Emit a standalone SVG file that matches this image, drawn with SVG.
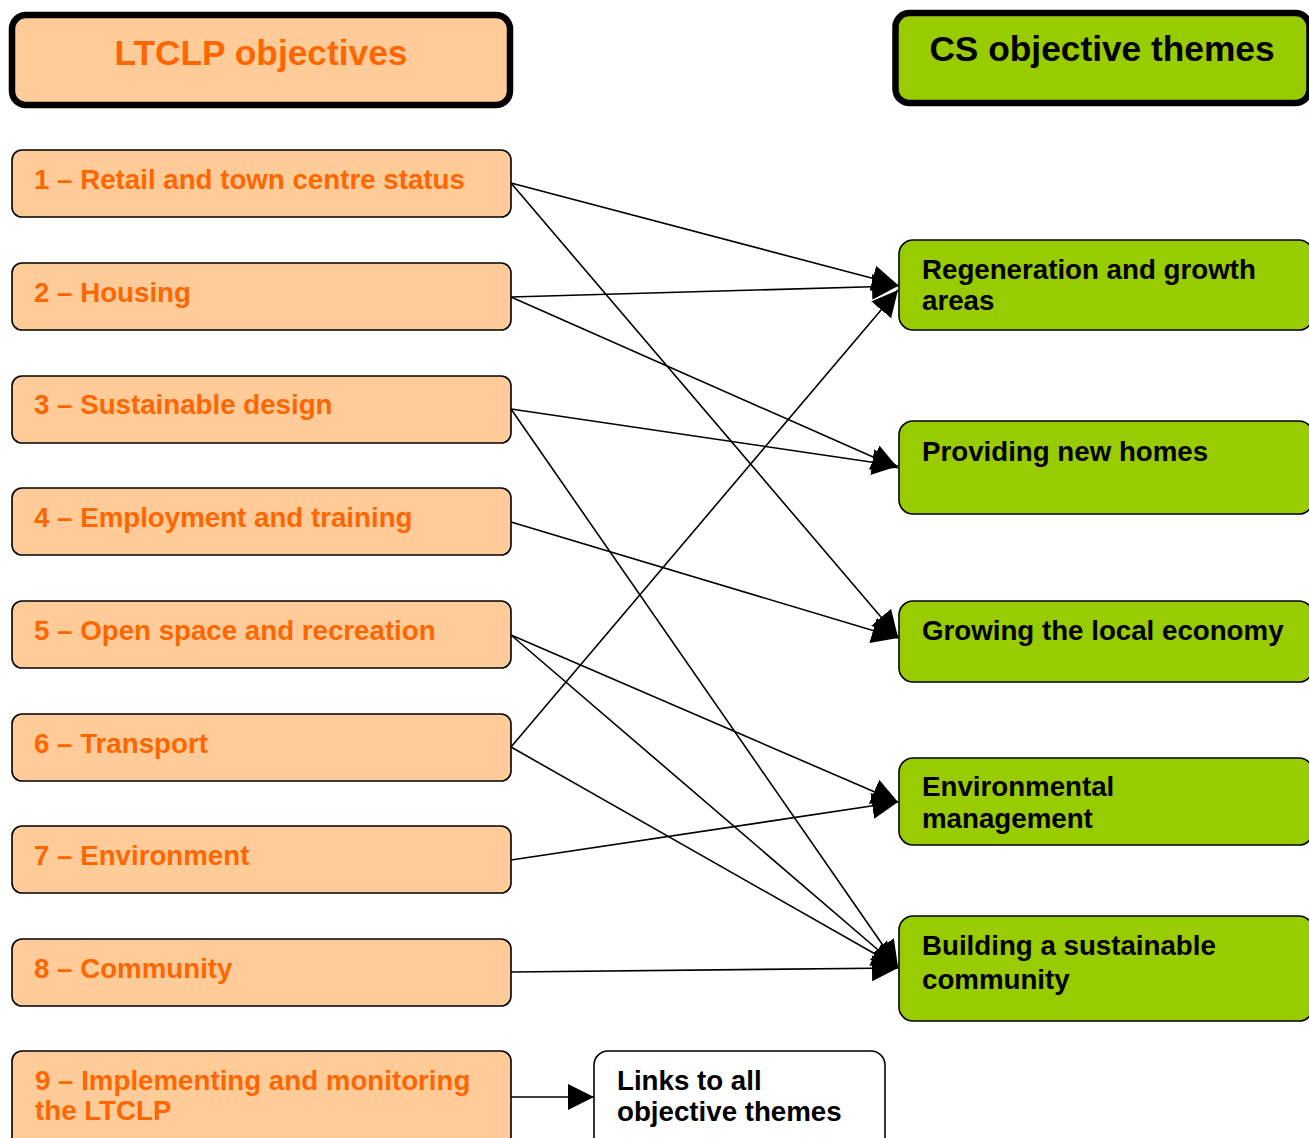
<svg xmlns="http://www.w3.org/2000/svg" width="1309" height="1138" viewBox="0 0 1309 1138">
<defs>
<marker id="ah" markerUnits="userSpaceOnUse" markerWidth="27" markerHeight="26" refX="26" refY="13" orient="auto">
<path d="M0,0 L26,13 L0,26 z" fill="#000"/>
</marker>
<style>
.hdr{stroke:#000;stroke-width:6.5}
.lbox{fill:#FFCC99;stroke:#000;stroke-width:1.6}
.rbox{fill:#99CC00;stroke:#000;stroke-width:1.6}
.wbox{fill:#FFFFFF;stroke:#000;stroke-width:1.6}
.lt{font-family:"Liberation Sans",Arial,sans-serif;font-weight:bold;font-size:27.7px;fill:#FF6600}
.rt{font-family:"Liberation Sans",Arial,sans-serif;font-weight:bold;font-size:27.7px;fill:#000}
.ht{font-family:"Liberation Sans",Arial,sans-serif;font-weight:bold;font-size:35.3px;text-anchor:middle}
.con line{stroke:#000;stroke-width:1.6;marker-end:url(#ah)}
</style>
</defs>
<rect width="1309" height="1138" fill="#fff"/>

<g id="hdr-left">
<rect class="hdr" x="12" y="15" width="498" height="90" rx="14" fill="#FFCC99"/>
<text class="ht" x="261" y="65" fill="#FF6600">LTCLP objectives</text>
</g>
<g id="hdr-right">
<rect class="hdr" x="895.5" y="13" width="414" height="90" rx="14" fill="#99CC00"/>
<text class="ht" x="1102" y="61" fill="#000">CS objective themes</text>
</g>

<g id="obj1"><rect class="lbox" x="12" y="150" width="499" height="67" rx="10"/><text class="lt" x="34" y="189">1 – Retail and town centre status</text></g>
<g id="obj2"><rect class="lbox" x="12" y="263" width="499" height="67" rx="10"/><text class="lt" x="34" y="302">2 – Housing</text></g>
<g id="obj3"><rect class="lbox" x="12" y="376" width="499" height="67" rx="10"/><text class="lt" x="34" y="414">3 – Sustainable design</text></g>
<g id="obj4"><rect class="lbox" x="12" y="488" width="499" height="67" rx="10"/><text class="lt" x="34" y="527">4 – Employment and training</text></g>
<g id="obj5"><rect class="lbox" x="12" y="601" width="499" height="67" rx="10"/><text class="lt" x="34" y="640">5 – Open space and recreation</text></g>
<g id="obj6"><rect class="lbox" x="12" y="714" width="499" height="67" rx="10"/><text class="lt" x="34" y="753">6 – Transport</text></g>
<g id="obj7"><rect class="lbox" x="12" y="826" width="499" height="67" rx="10"/><text class="lt" x="34" y="865">7 – Environment</text></g>
<g id="obj8"><rect class="lbox" x="12" y="939" width="499" height="67" rx="10"/><text class="lt" x="34" y="978">8 – Community</text></g>
<g id="obj9"><rect class="lbox" x="12" y="1051" width="499" height="100" rx="10"/><text class="lt" x="35" y="1090">9 – Implementing and monitoring</text><text class="lt" x="35" y="1120">the LTCLP</text></g>

<g id="th-regen"><rect class="rbox" x="899" y="240" width="414" height="90" rx="14"/><text class="rt" x="922" y="279">Regeneration and growth</text><text class="rt" x="922" y="310">areas</text></g>
<g id="th-homes"><rect class="rbox" x="899" y="421" width="414" height="93" rx="14"/><text class="rt" x="922" y="461">Providing new homes</text></g>
<g id="th-econ"><rect class="rbox" x="899" y="601" width="414" height="81" rx="14"/><text class="rt" x="922" y="640">Growing the local economy</text></g>
<g id="th-env"><rect class="rbox" x="899" y="758" width="414" height="87" rx="14"/><text class="rt" x="922" y="796">Environmental</text><text class="rt" x="922" y="828">management</text></g>
<g id="th-comm"><rect class="rbox" x="899" y="916" width="414" height="105" rx="14"/><text class="rt" x="922" y="955">Building a sustainable</text><text class="rt" x="922" y="989">community</text></g>

<g id="links"><rect class="wbox" x="594" y="1051" width="291" height="100" rx="14"/><text class="rt" x="617" y="1090">Links to all</text><text class="rt" x="617" y="1121">objective themes</text></g>

<g id="connectors" class="con">
<line x1="511" y1="183" x2="898" y2="285"/>
<line x1="511" y1="183" x2="898" y2="637"/>
<line x1="511" y1="297" x2="898" y2="286"/>
<line x1="511" y1="297" x2="898" y2="468"/>
<line x1="511" y1="409" x2="898" y2="466"/>
<line x1="511" y1="409" x2="898" y2="967"/>
<line x1="511" y1="522" x2="898" y2="638"/>
<line x1="511" y1="635" x2="898" y2="802"/>
<line x1="511" y1="635" x2="898" y2="967"/>
<line x1="511" y1="747" x2="898" y2="290"/>
<line x1="511" y1="747" x2="898" y2="967"/>
<line x1="511" y1="860" x2="898" y2="802"/>
<line x1="511" y1="972" x2="898" y2="968"/>
<line x1="511" y1="1097" x2="594" y2="1097"/>
</g>
</svg>
